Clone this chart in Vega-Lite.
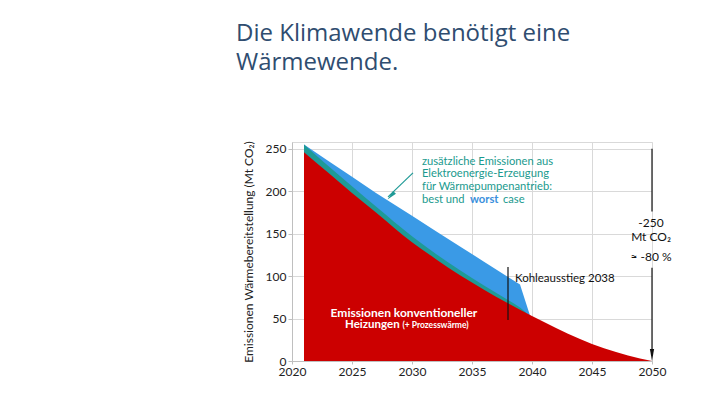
{
  "$schema": "https://vega.github.io/schema/vega-lite/v6.json",
  "width": 360,
  "height": 219,
  "autosize": "none",
  "padding": {"left": 292, "top": 142, "right": 54, "bottom": 36},
  "background": "white",
  "config": {
    "view": {"stroke": "#d9d9d9"},
    "font": "Lato",
    "axis": {
      "gridColor": "#d9d9d9",
      "domainColor": "#bfbfbf",
      "tickColor": "#bfbfbf",
      "labelColor": "#222222",
      "titleColor": "#222222",
      "labelFont": "Lato",
      "titleFont": "Lato",
      "labelFontSize": 12,
      "titleFontSize": 12,
      "titleFontWeight": "normal",
      "labelFlush": false
    }
  },
  "title": {
    "text": ["Die Klimawende benötigt eine", "Wärmewende."],
    "anchor": "start",
    "frame": "group",
    "dx": -56,
    "offset": 66,
    "font": "Open Sans",
    "fontSize": 24,
    "fontWeight": "normal",
    "color": "#2f4d70",
    "lineHeight": 29
  },
  "datasets": {
    "blue": [
      {"year": 2021, "v": 255}, {"year": 2023, "v": 236}, {"year": 2025, "v": 217},
      {"year": 2027, "v": 198}, {"year": 2030, "v": 171}, {"year": 2032, "v": 153},
      {"year": 2034, "v": 135}, {"year": 2036, "v": 117}, {"year": 2038, "v": 99},
      {"year": 2039, "v": 90}, {"year": 2039.8, "v": 55}
    ],
    "teal": [
      {"year": 2021, "v": 255}, {"year": 2023, "v": 230}, {"year": 2025, "v": 206},
      {"year": 2027, "v": 182}, {"year": 2030, "v": 147}, {"year": 2032, "v": 126},
      {"year": 2034, "v": 107}, {"year": 2036, "v": 89}, {"year": 2038, "v": 72},
      {"year": 2039, "v": 63}, {"year": 2039.5, "v": 57}
    ],
    "red": [
      {"year": 2021, "v": 246}, {"year": 2023, "v": 222}, {"year": 2025, "v": 198},
      {"year": 2027, "v": 175}, {"year": 2030, "v": 140}, {"year": 2032, "v": 120},
      {"year": 2034, "v": 101}, {"year": 2036, "v": 84}, {"year": 2038, "v": 68},
      {"year": 2040, "v": 53}, {"year": 2042, "v": 39}, {"year": 2044, "v": 26},
      {"year": 2046, "v": 15}, {"year": 2048, "v": 6.5}, {"year": 2050, "v": 0}
    ]
  },
  "layer": [
    {
      "data": {"name": "blue"},
      "mark": {"type": "area", "color": "#3a9ae6", "interpolate": "linear"},
      "encoding": {
        "x": {
          "field": "year", "type": "quantitative",
          "scale": {"domain": [2020, 2050], "nice": false, "zero": false},
          "axis": {"values": [2020, 2025, 2030, 2035, 2040, 2045, 2050], "format": "d", "title": null, "tickSize": 3, "labelPadding": 2}
        },
        "y": {
          "field": "v", "type": "quantitative",
          "scale": {"domain": [0, 258], "nice": false},
          "axis": {"values": [0, 50, 100, 150, 200, 250], "title": "Emissionen Wärmebereitstellung (Mt CO₂)", "tickSize": 4, "labelPadding": 2, "titlePadding": 10}
        }
      }
    },
    {
      "data": {"name": "teal"},
      "mark": {"type": "area", "color": "#1f9a96", "interpolate": "monotone"},
      "encoding": {
        "x": {"field": "year", "type": "quantitative"},
        "y": {"field": "v", "type": "quantitative"}
      }
    },
    {
      "data": {"name": "red"},
      "mark": {"type": "area", "color": "#cc0000", "interpolate": "monotone"},
      "encoding": {
        "x": {"field": "year", "type": "quantitative"},
        "y": {"field": "v", "type": "quantitative"}
      }
    },
    {
      "data": {"values": [{"year": 2038, "v": 110.8, "v2": 48.3}]},
      "mark": {"type": "rule", "color": "#111111", "strokeWidth": 1.2},
      "encoding": {
        "x": {"field": "year", "type": "quantitative"},
        "y": {"field": "v", "type": "quantitative"},
        "y2": {"field": "v2"}
      }
    },
    {
      "data": {"values": [{"year": 2050, "v": 250, "v2": 176}, {"year": 2050, "v": 110, "v2": 6}]},
      "mark": {"type": "rule", "color": "#111111", "strokeWidth": 1.2},
      "encoding": {
        "x": {"field": "year", "type": "quantitative"},
        "y": {"field": "v", "type": "quantitative"},
        "y2": {"field": "v2"}
      }
    },
    {
      "data": {"values": [{"year": 2050, "v": 7}]},
      "mark": {"type": "point", "shape": "M -0.35 -1 L 0.35 -1 L 0 1 Z", "filled": true, "color": "#111111", "size": 144, "opacity": 1, "strokeWidth": 0},
      "encoding": {
        "x": {"field": "year", "type": "quantitative"},
        "y": {"field": "v", "type": "quantitative"}
      }
    },
    {
      "data": {"values": [{"year": 2030.08, "v": 221.7, "year2": 2028.0, "v2": 193.4}]},
      "mark": {"type": "rule", "color": "#1f9a96", "strokeWidth": 1.2},
      "encoding": {
        "x": {"field": "year", "type": "quantitative"},
        "y": {"field": "v", "type": "quantitative"},
        "x2": {"field": "year2"},
        "y2": {"field": "v2"}
      }
    },
    {
      "data": {"values": [{"year": 2028.25, "v": 194.5}]},
      "mark": {"type": "point", "shape": "M -0.4 -1 L 0.4 -1 L 0 1 Z", "filled": true, "color": "#1f9a96", "size": 100, "angle": 45, "opacity": 1, "strokeWidth": 0},
      "encoding": {
        "x": {"field": "year", "type": "quantitative"},
        "y": {"field": "v", "type": "quantitative"}
      }
    },
    {
      "data": {"values": [
        {"year": 2030.83, "v": 234.7, "t": "zusätzliche Emissionen aus"},
        {"year": 2030.83, "v": 220.5, "t": "Elektroenergie-Erzeugung"},
        {"year": 2030.83, "v": 205.2, "t": "für Wärmepumpenantrieb:"},
        {"year": 2030.83, "v": 189.9, "t": "best und"},
        {"year": 2037.58, "v": 189.9, "t": "case"}
      ]},
      "mark": {"type": "text", "align": "left", "baseline": "middle", "color": "#1a9a8e", "fontSize": 11.2, "font": "Lato"},
      "encoding": {
        "x": {"field": "year", "type": "quantitative"},
        "y": {"field": "v", "type": "quantitative"},
        "text": {"field": "t"}
      }
    },
    {
      "data": {"values": [{"year": 2034.83, "v": 189.9, "t": "worst"}]},
      "mark": {"type": "text", "align": "left", "baseline": "middle", "color": "#3a8fdc", "fontSize": 11.2, "fontWeight": "bold", "font": "Lato"},
      "encoding": {
        "x": {"field": "year", "type": "quantitative"},
        "y": {"field": "v", "type": "quantitative"},
        "text": {"field": "t"}
      }
    },
    {
      "data": {"values": [{"year": 2038.58, "v": 96.7, "t": "Kohleausstieg 2038"}]},
      "mark": {"type": "text", "align": "left", "baseline": "middle", "color": "#111111", "fontSize": 11.5, "font": "Lato"},
      "encoding": {
        "x": {"field": "year", "type": "quantitative"},
        "y": {"field": "v", "type": "quantitative"},
        "text": {"field": "t"}
      }
    },
    {
      "data": {"values": [
        {"year": 2049.92, "v": 162.7, "t": "-250"},
        {"year": 2049.92, "v": 146, "t": "Mt CO₂"},
        {"year": 2049.92, "v": 122.6, "t": "≈ -80 %"}
      ]},
      "mark": {"type": "text", "align": "center", "baseline": "middle", "color": "#111111", "fontSize": 12, "font": "Lato"},
      "encoding": {
        "x": {"field": "year", "type": "quantitative"},
        "y": {"field": "v", "type": "quantitative"},
        "text": {"field": "t"}
      }
    },
    {
      "data": {"values": [{"year": 2029.33, "v": 56.6, "t": "Emissionen konventioneller"}]},
      "mark": {"type": "text", "align": "center", "baseline": "middle", "color": "#ffffff", "fontSize": 12, "fontWeight": "bold", "font": "Lato"},
      "encoding": {
        "x": {"field": "year", "type": "quantitative"},
        "y": {"field": "v", "type": "quantitative"},
        "text": {"field": "t"}
      }
    },
    {
      "data": {"values": [{"year": 2024.42, "v": 42.5, "t": "Heizungen"}]},
      "mark": {"type": "text", "align": "left", "baseline": "middle", "color": "#ffffff", "fontSize": 11.5, "fontWeight": "bold", "font": "Lato"},
      "encoding": {
        "x": {"field": "year", "type": "quantitative"},
        "y": {"field": "v", "type": "quantitative"},
        "text": {"field": "t"}
      }
    },
    {
      "data": {"values": [{"year": 2029.2, "v": 42.5, "t": "(+ Prozesswärme)"}]},
      "mark": {"type": "text", "align": "left", "baseline": "middle", "color": "#ffffff", "fontSize": 8.5, "fontWeight": "bold", "font": "Lato"},
      "encoding": {
        "x": {"field": "year", "type": "quantitative"},
        "y": {"field": "v", "type": "quantitative"},
        "text": {"field": "t"}
      }
    }
  ]
}
